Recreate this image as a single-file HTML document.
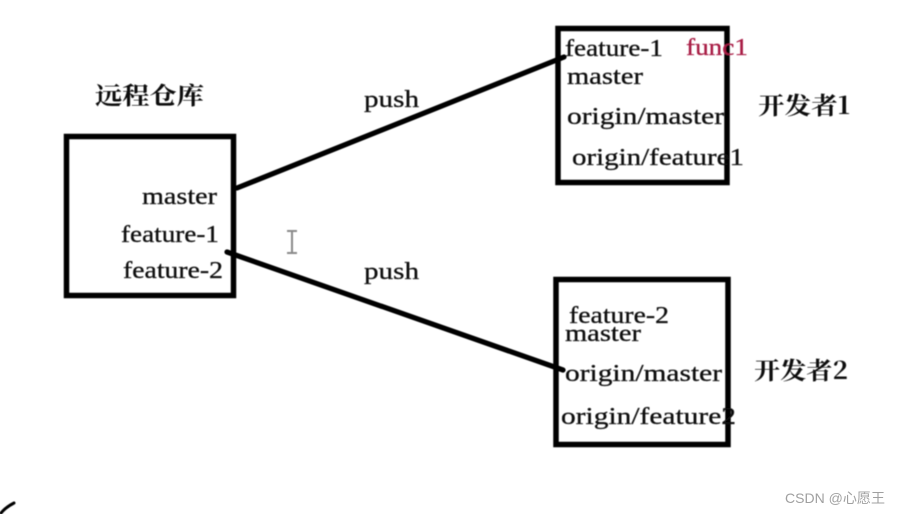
<!DOCTYPE html>
<html>
<head>
<meta charset="utf-8">
<style>
html,body{margin:0;padding:0;background:#fff;width:900px;height:514px;overflow:hidden}
svg{display:block}
.t{font-family:"Liberation Serif","Noto Serif CJK SC",serif;font-size:24px;fill:#111;stroke:#111;stroke-width:.3px}
.c{font-family:"Noto Serif CJK SC","Liberation Serif",serif;font-size:24px;font-weight:700;fill:#111}
</style>
</head>
<body>
<svg width="900" height="514" viewBox="0 0 900 514" xmlns="http://www.w3.org/2000/svg">
<defs><filter id="b" x="-5%" y="-5%" width="110%" height="110%"><feGaussianBlur stdDeviation="0.4"/></filter></defs>
<rect width="900" height="514" fill="#fff"/>
<g filter="url(#b)">
<g fill="none" stroke="#050505" stroke-width="5.5">
<rect x="66.5" y="136.5" width="167" height="159"/>
<rect x="558" y="28.5" width="169" height="154"/>
<rect x="556" y="279.5" width="172" height="165"/>
</g>
<g stroke="#050505" stroke-width="5.2" stroke-linecap="round" fill="none">
<path d="M237 188 L564 57"/>
<path d="M227 252 L563 370"/>
<path d="M1 513 Q6 507 14 503" stroke-width="3"/>
</g>
<text class="c" x="95" y="104" textLength="109" lengthAdjust="spacingAndGlyphs">远程仓库</text>
<text class="t" x="142" y="204" textLength="75" lengthAdjust="spacingAndGlyphs">master</text>
<text class="t" x="121" y="242" textLength="98" lengthAdjust="spacingAndGlyphs">feature-1</text>
<text class="t" x="123" y="278" textLength="100" lengthAdjust="spacingAndGlyphs">feature-2</text>
<text class="t" x="364" y="107" textLength="55" lengthAdjust="spacingAndGlyphs">push</text>
<text class="t" x="364" y="279" textLength="55" lengthAdjust="spacingAndGlyphs">push</text>
<text class="t" x="565" y="56" textLength="98" lengthAdjust="spacingAndGlyphs">feature-1</text>
<text class="t" x="686" y="55" textLength="62" lengthAdjust="spacingAndGlyphs" style="fill:#a81c44;stroke:#a81c44">func1</text>
<text class="t" x="567" y="84" textLength="76" lengthAdjust="spacingAndGlyphs">master</text>
<text class="t" x="567" y="124" textLength="157" lengthAdjust="spacingAndGlyphs">origin/master</text>
<text class="t" x="572" y="165" textLength="172" lengthAdjust="spacingAndGlyphs">origin/feature1</text>
<text class="c" x="758" y="114" textLength="92" lengthAdjust="spacingAndGlyphs">开发者1</text>
<text class="t" x="569" y="323" textLength="100" lengthAdjust="spacingAndGlyphs">feature-2</text>
<text class="t" x="565" y="341" textLength="76" lengthAdjust="spacingAndGlyphs">master</text>
<text class="t" x="565" y="381" textLength="157" lengthAdjust="spacingAndGlyphs">origin/master</text>
<text class="t" x="561" y="424" textLength="175" lengthAdjust="spacingAndGlyphs">origin/feature2</text>
<text class="c" x="754" y="379" textLength="94" lengthAdjust="spacingAndGlyphs">开发者2</text>
<g fill="none" stroke="#8a8a8a" stroke-width="2">
<path d="M287 231 H297 M292 231 V253 M287 253 H297"/>
</g>
</g>
<text x="785" y="503" style="font-family:'Liberation Sans','Noto Sans CJK SC',sans-serif;font-size:14px;fill:#a0a0a0" textLength="100" lengthAdjust="spacingAndGlyphs">CSDN @心愿王</text>
</svg>
</body>
</html>
